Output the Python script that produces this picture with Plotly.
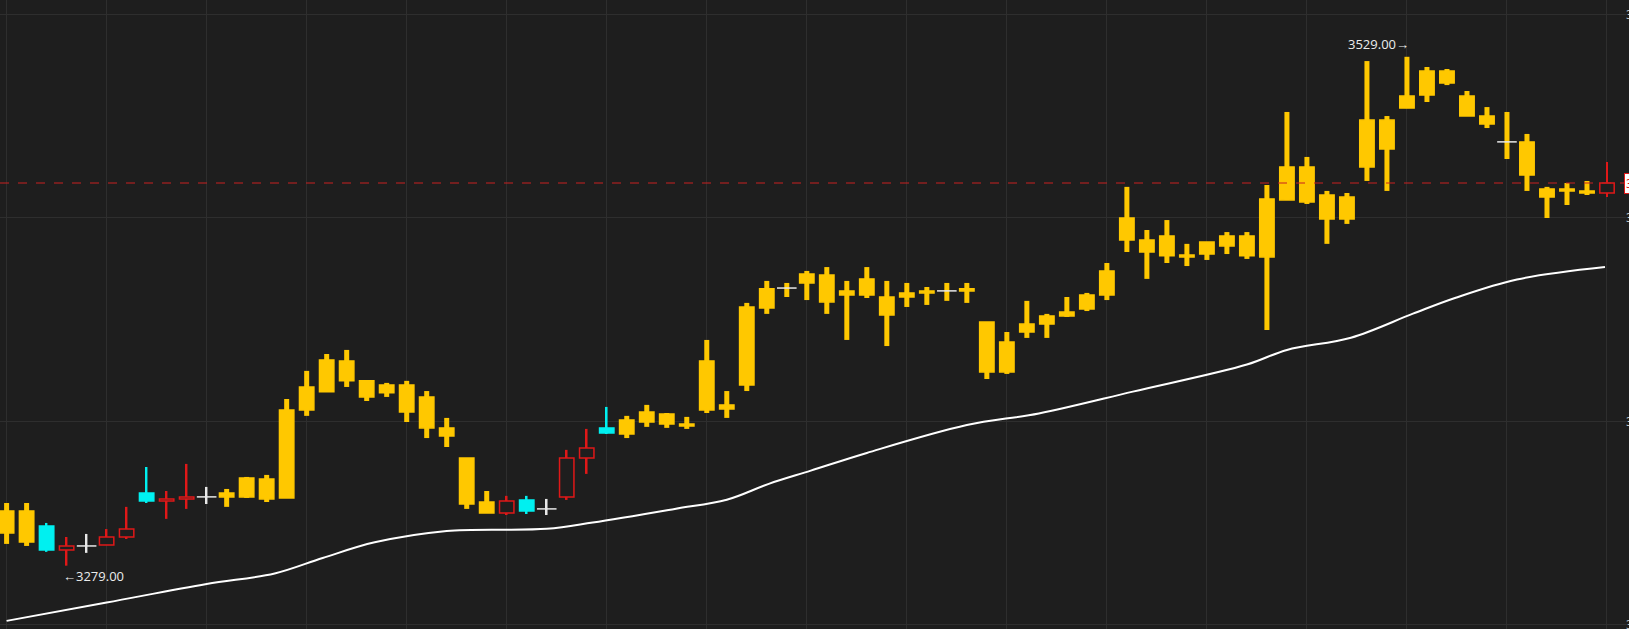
import plotly.graph_objects as go
import numpy as np

# candle kinds: g = gold, c = cyan (down), r = red hollow (up), w = white doji, y = gold wick + white doji
cyan_idx = [2, 7, 26, 30]
red_idx = [3, 5, 6, 8, 9, 25, 28, 29, 80]
white_idx = [4, 10, 27]
gold_doji_idx = [39, 47, 75]

opens = [3295.1, 3290.6, 3298.5, 3286.7, 3288.7, 3289.2, 3293.1, 3314.7, 3310.8, 3311.8,
         3312.8, 3312.8, 3312.8, 3311.8, 3312.3, 3355.5, 3364.4, 3369.8, 3369.8, 3363.9,
         3367.8, 3361.9, 3346.7, 3331.9, 3310.3, 3304.9, 3311.3, 3306.9, 3312.8, 3331.9,
         3346.7, 3343.7, 3349.6, 3353.5, 3347.6, 3355.5, 3356.0, 3367.8, 3405.6, 3414.5,
         3417.9, 3408.6, 3412.0, 3412.0, 3411.0, 3411.0, 3413.0, 3414.0, 3414.0, 3398.7,
         3374.2, 3393.8, 3397.7, 3401.7, 3405.1, 3412.0, 3439.0, 3439.0, 3431.2, 3430.7,
         3432.1, 3436.1, 3431.2, 3430.7, 3458.7, 3457.7, 3461.1, 3449.3, 3474.9, 3483.7,
         3503.8, 3510.2, 3516.1, 3499.9, 3496.0, 3487.2, 3470.9, 3464.1, 3463.1, 3462.1,
         3462.1]
highs = [3309.8, 3309.8, 3300.0, 3293.1, 3294.6, 3297.0, 3307.9, 3327.5, 3315.7, 3329.0,
         3317.7, 3316.7, 3322.6, 3323.6, 3360.9, 3374.7, 3383.0, 3385.0, 3370.2, 3368.8,
         3369.8, 3364.8, 3351.6, 3331.9, 3315.7, 3313.3, 3313.3, 3311.8, 3335.9, 3346.2,
         3357.0, 3352.6, 3358.0, 3354.0, 3352.1, 3389.9, 3364.8, 3408.1, 3418.9, 3417.9,
         3423.8, 3425.7, 3418.9, 3425.7, 3418.9, 3417.9, 3415.9, 3417.9, 3417.9, 3398.7,
         3393.8, 3409.1, 3402.7, 3411.0, 3413.0, 3427.7, 3465.1, 3443.9, 3448.8, 3437.1,
         3438.0, 3442.9, 3442.9, 3466.0, 3501.9, 3479.8, 3463.1, 3462.1, 3526.9, 3499.9,
         3529.0, 3524.0, 3523.0, 3512.2, 3504.3, 3501.9, 3491.1, 3465.1, 3467.0, 3468.0,
         3477.3]
lows = [3289.7, 3288.7, 3285.8, 3279.0, 3285.3, 3289.2, 3292.1, 3309.8, 3302.0, 3306.9,
        3309.3, 3307.9, 3312.3, 3310.3, 3312.3, 3352.6, 3364.4, 3366.8, 3359.9, 3361.9,
        3349.6, 3341.7, 3337.3, 3306.9, 3304.9, 3303.9, 3304.4, 3303.9, 3311.3, 3324.1,
        3343.7, 3341.7, 3347.2, 3346.7, 3346.2, 3354.0, 3351.6, 3364.8, 3402.7, 3411.0,
        3409.5, 3402.7, 3389.9, 3410.5, 3386.9, 3406.1, 3407.1, 3409.1, 3408.1, 3370.7,
        3373.2, 3390.9, 3390.9, 3401.2, 3404.1, 3409.5, 3433.1, 3419.9, 3427.7, 3426.2,
        3429.2, 3432.1, 3429.7, 3394.8, 3458.7, 3456.7, 3437.1, 3446.9, 3468.0, 3463.1,
        3503.8, 3506.8, 3515.1, 3499.9, 3494.0, 3478.8, 3463.1, 3449.8, 3456.2, 3461.1,
        3460.1]
closes = [3305.9, 3305.9, 3286.7, 3288.7, 3288.7, 3293.1, 3297.0, 3310.8, 3311.8, 3312.8,
          3312.8, 3314.7, 3322.1, 3321.6, 3355.5, 3366.8, 3380.1, 3379.6, 3361.9, 3367.8,
          3354.5, 3346.7, 3342.7, 3309.3, 3304.9, 3310.8, 3305.9, 3306.9, 3331.9, 3336.8,
          3344.2, 3350.6, 3354.5, 3348.6, 3348.6, 3379.6, 3358.0, 3406.1, 3415.0, 3415.4,
          3422.3, 3421.8, 3414.0, 3419.9, 3402.2, 3413.0, 3414.0, 3414.0, 3415.0, 3374.2,
          3388.9, 3397.7, 3401.7, 3403.6, 3412.0, 3423.8, 3449.8, 3433.1, 3441.0, 3431.6,
          3438.0, 3441.0, 3441.0, 3459.2, 3474.9, 3474.9, 3449.3, 3460.1, 3497.9, 3497.9,
          3509.7, 3522.0, 3522.0, 3509.7, 3499.9, 3487.2, 3487.2, 3460.1, 3464.1, 3463.1,
          3467.0]

ma_x = [0, 5, 10, 13.4, 15.8, 18.4, 22, 27, 29.3, 33.4, 36, 38.1, 40.2, 43, 48, 51.6,
        56.3, 62, 64, 67.2, 70.3, 72.4, 75.5, 79.9]
ma_y = [3251.9, 3260.9, 3270.0, 3275.2, 3282.8, 3290.5, 3296.1, 3297.1, 3300.2, 3306.9,
        3311.4, 3319.2, 3325.7, 3334.4, 3348.1, 3353.8, 3364.5, 3377.8, 3385.0, 3391.0,
        3402.8, 3410.5, 3419.6, 3425.7]

y_ticks = [3550, 3450, 3350, 3250]
last_price = closes[-1]

BG = "#1e1e1e"
GOLD = "#ffc800"
CYAN = "#00f0f0"
RED = "#e01818"

o = np.array(opens); h = np.array(highs); l = np.array(lows); c = np.array(closes)
x = np.arange(len(o))
k = np.array(["g"] * len(o))
k[cyan_idx] = "c"; k[red_idx] = "r"; k[white_idx] = "w"; k[gold_doji_idx] = "y"

fig = go.Figure()

# wicks
for kind, col, w in [("g", GOLD, 0.25), ("y", GOLD, 0.25), ("c", CYAN, 0.08),
                     ("r", RED, 0.08), ("w", "#e8e8e8", 0.08)]:
    m = k == kind
    fig.add_trace(go.Bar(x=x[m], base=l[m], y=(h - l)[m], width=w,
                         marker=dict(color=col, line_width=0), hoverinfo="skip"))

# bodies
lo = np.minimum(o, c); hi = np.maximum(o, c)
for kind, fill, edge in [("g", GOLD, GOLD), ("c", CYAN, CYAN), ("r", BG, RED)]:
    m = k == kind
    fig.add_trace(go.Bar(x=x[m], base=lo[m], y=np.maximum(hi - lo, 0.3)[m], width=0.72,
                         marker=dict(color=fill, line=dict(color=edge, width=1.5)),
                         hoverinfo="skip"))

# doji ticks
m = (k == "w") | (k == "y")
fig.add_trace(go.Scatter(x=x[m], y=c[m], mode="markers",
                         marker=dict(symbol="line-ew", size=14,
                                     line=dict(color="#e8e8e8", width=1.5)),
                         hoverinfo="skip"))

# moving average
fig.add_trace(go.Scatter(x=ma_x, y=ma_y, mode="lines", line=dict(color="#ffffff", width=2),
                         line_shape="spline", hoverinfo="skip"))

fig.add_hline(y=last_price, line=dict(color="#c82020", width=1, dash="dash"))

imax = int(np.argmax(h)); imin = int(np.argmin(l))
fig.add_annotation(x=imax, y=h[imax], text=f"{h[imax]:.2f}→", showarrow=False,
                   xanchor="right", yanchor="bottom", xshift=4, yshift=2,
                   font=dict(color="#ececec", size=13, family="Open Sans"))
fig.add_annotation(x=imin, y=l[imin], text=f"←{l[imin]:.2f}", showarrow=False,
                   xanchor="left", yanchor="top", xshift=-6, yshift=1,
                   font=dict(color="#ececec", size=13, family="Open Sans"))

# right axis labels (clipped by the window)
for t in y_ticks:
    fig.add_annotation(x=80.85, y=t, text=f"{t:.2f}", showarrow=False, xanchor="left",
                       font=dict(color="#cccccc", size=12, family="Open Sans"))
fig.add_annotation(x=80.85, y=last_price, text=f"{last_price:.2f}", showarrow=False,
                   xanchor="left", bgcolor="#ffffff", bordercolor=RED, borderwidth=1,
                   font=dict(color=RED, size=12, family="Open Sans"))

fig.update_layout(
    width=1629, height=629, margin=dict(l=0, r=0, t=0, b=0),
    paper_bgcolor=BG, plot_bgcolor=BG, barmode="overlay", showlegend=False,
    xaxis=dict(range=[-0.33, 81.1], dtick=5, tick0=0, showticklabels=False,
               gridcolor="#2e2e2e", zeroline=False, fixedrange=True),
    yaxis=dict(range=[3247.9, 3556.9], dtick=100, tick0=3250, showticklabels=False,
               gridcolor="#2e2e2e", zeroline=False, fixedrange=True),
)

fig.write_html("out.html", config={"displayModeBar": False},
               post_script="document.body.style.margin='0';")
